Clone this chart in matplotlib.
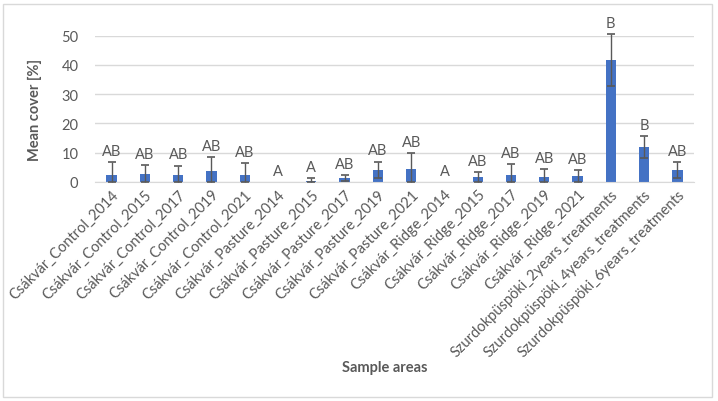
import numpy as np
import matplotlib
matplotlib.use('Agg')
import matplotlib.pyplot as plt
from matplotlib.patches import Rectangle

plt.rcParams['font.family'] = ['Lato', 'DejaVu Sans']

areas = ['Csákvár_Control_2014', 'Csákvár_Control_2015', 'Csákvár_Control_2017',
         'Csákvár_Control_2019', 'Csákvár_Control_2021', 'Csákvár_Pasture_2014',
         'Csákvár_Pasture_2015', 'Csákvár_Pasture_2017', 'Csákvár_Pasture_2019',
         'Csákvár_Pasture_2021', 'Csákvár_Ridge_2014', 'Csákvár_Ridge_2015',
         'Csákvár_Ridge_2017', 'Csákvár_Ridge_2019', 'Csákvár_Ridge_2021',
         'Szurdokpüspöki_2years_treatments', 'Szurdokpüspöki_4years_treatments',
         'Szurdokpüspöki_6years_treatments']
mean_cover = [2.5, 2.8, 2.5, 3.75, 2.5, 0.0, 0.45, 1.25, 4.1, 4.4,
              0.0, 1.7, 2.3, 1.7, 2.05, 41.6, 11.9, 4.1]
err = [4.2, 3.1, 3.1, 4.85, 4.0, 0.0, 0.95, 1.05, 2.9, 5.4,
       0.0, 1.8, 3.7, 2.6, 2.05, 8.9, 3.7, 2.6]
letters = ['AB', 'AB', 'AB', 'AB', 'AB', 'A', 'A', 'AB', 'AB', 'AB',
           'A', 'AB', 'AB', 'AB', 'AB', 'B', 'B', 'AB']

grey = '#595959'
mean_cover = np.array(mean_cover)
err = np.array(err)
lower = np.minimum(err, mean_cover)
x = np.arange(len(areas))
has_err = err > 0

fig = plt.figure(figsize=(7.18, 4.02), dpi=100)
ax = fig.add_axes([0.1323, 0.5448, 0.8343, 0.3639])

ax.bar(x, mean_cover, width=0.31, color='#4472C4', zorder=2)
eb = ax.errorbar(x[has_err], mean_cover[has_err],
                 yerr=[lower[has_err], err[has_err]], fmt='none', ecolor=grey,
                 elinewidth=1.0, capsize=3, capthick=1.2, zorder=3)
for artist in eb.lines[1] + eb.lines[2]:
    artist.set_clip_on(False)

for xi, top, lab in zip(x, mean_cover + err, letters):
    ax.annotate(lab, (xi, top), xytext=(0, 3), textcoords='offset points',
                ha='center', va='bottom', fontsize=10.5, color=grey,
                annotation_clip=False)

ax.set_xlim(-0.5, len(areas) - 0.5)
ax.set_ylim(0, 50)
ax.set_yticks(range(0, 51, 10))
ax.yaxis.grid(True, color='#d9d9d9', linewidth=1.0, zorder=0)
ax.set_axisbelow(True)
for s in ['top', 'right', 'left']:
    ax.spines[s].set_visible(False)
ax.spines['bottom'].set_color('#d9d9d9')
ax.tick_params(axis='both', length=0, colors=grey, labelsize=10.5)
ax.tick_params(axis='y', pad=12)
ax.set_xticks(x)
ax.set_xticklabels(areas, rotation=45, ha='right', rotation_mode='anchor',
                   fontsize=10.5)

ax.set_ylabel('Mean cover [%]', fontsize=10.5, fontweight='bold', color=grey,
              labelpad=14)
fig.text(0.536, 0.085, 'Sample areas', fontsize=10.5, fontweight='bold',
         color=grey, ha='center', va='center')

fig.patches.append(Rectangle((3 / 718, 4 / 402), 709 / 718, 393 / 402,
                             transform=fig.transFigure, fill=False,
                             edgecolor='#d9d9d9', linewidth=1.0))

fig.savefig('out.png', dpi=100)
